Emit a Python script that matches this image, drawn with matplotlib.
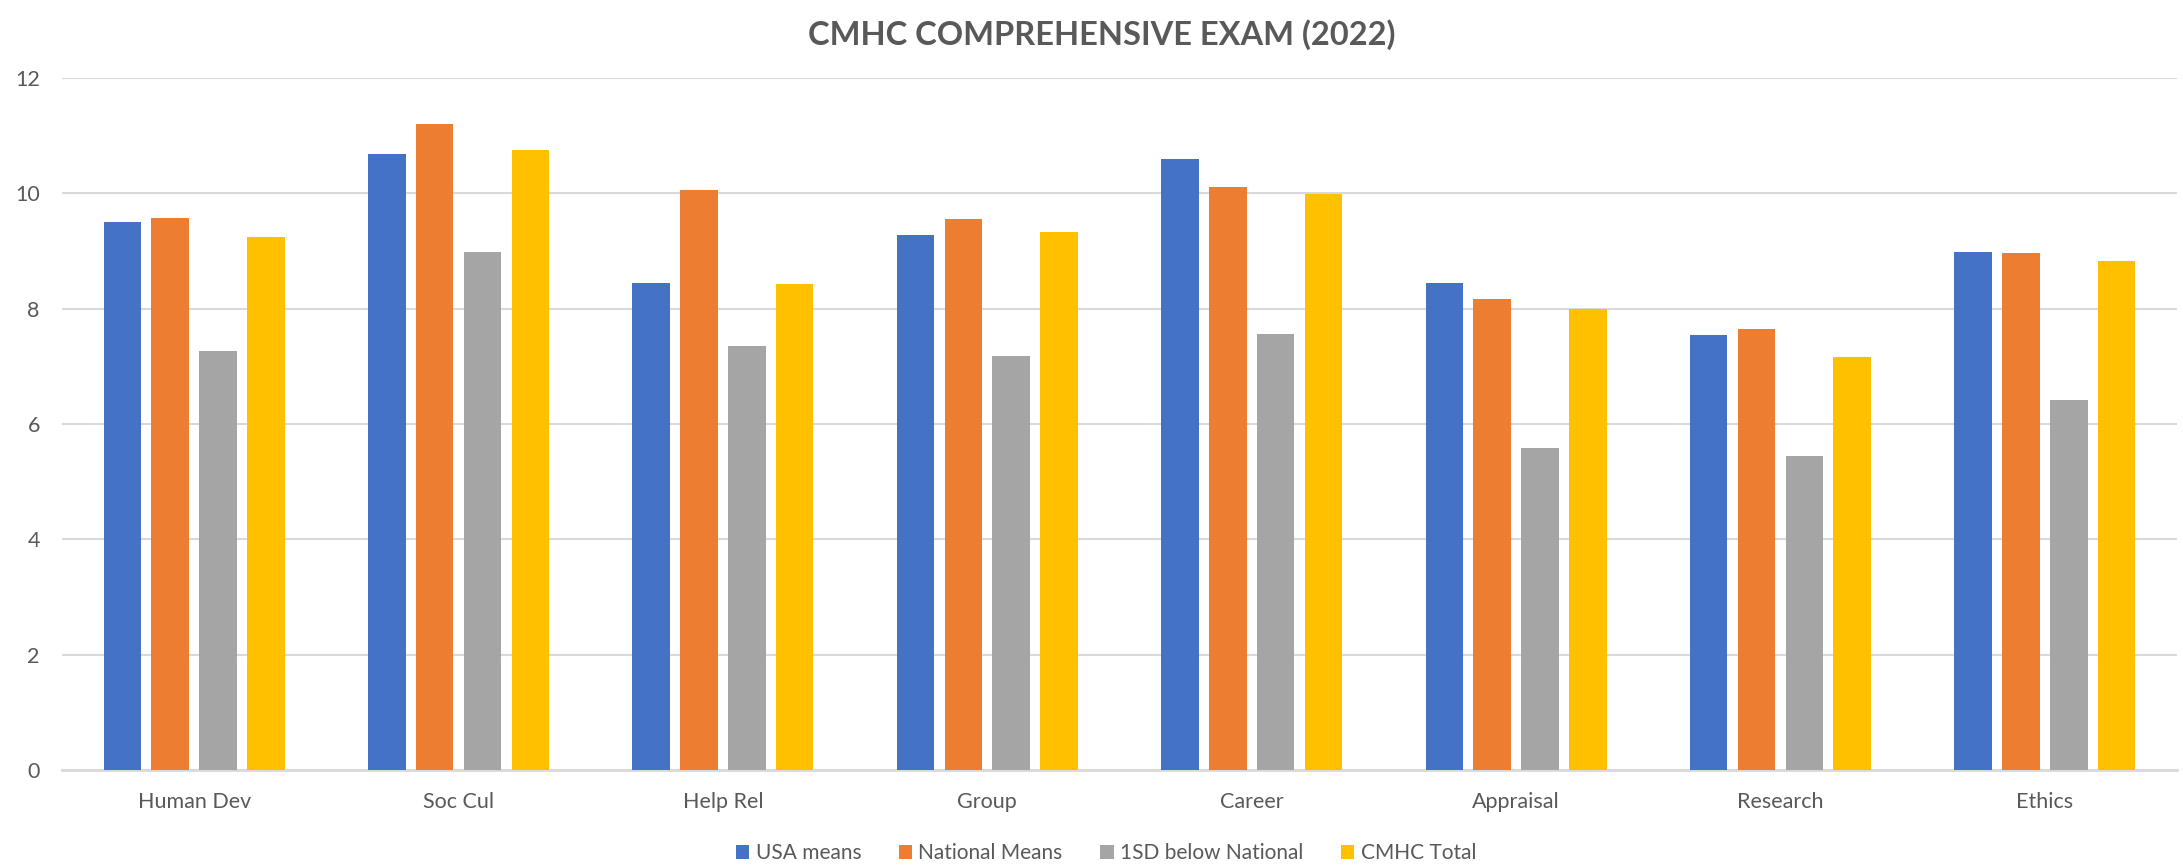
import numpy as np
import matplotlib
matplotlib.use('Agg')
import matplotlib.pyplot as plt

# Datos
categorias = ['Human Dev', 'Soc Cul', 'Help Rel', 'Group', 'Career', 'Appraisal', 'Research', 'Ethics']
usa_means = [9.50, 10.68, 8.45, 9.27, 10.60, 8.45, 7.55, 8.99]
national_means = [9.57, 11.20, 10.05, 9.55, 10.11, 8.16, 7.65, 8.96]
sd_below = [7.27, 8.98, 7.35, 7.18, 7.56, 5.58, 5.44, 6.42]
cmhc_total = [9.25, 10.75, 8.42, 9.33, 9.99, 8.00, 7.16, 8.83]

series = [usa_means, national_means, sd_below, cmhc_total]
nombres = ['USA means', 'National Means', '1SD below National', 'CMHC Total']
colores = ['#4472C4', '#ED7D31', '#A5A5A5', '#FFC000']

plt.rcParams['font.family'] = ['Lato', 'DejaVu Sans']
gris = '#595959'

fig = plt.figure(figsize=(21.83, 8.67), dpi=100)
ax = fig.add_axes([62/2183, 1-770/867, (2177-62)/2183, (770-78)/867])

x = np.arange(len(categorias))
ancho = 0.142
paso = 0.181
for i, (vals, nom, col) in enumerate(zip(series, nombres, colores)):
    ax.bar(x + (i-1.5)*paso, vals, ancho, color=col, label=nom, zorder=3)

ax.set_xlim(-0.5, len(categorias)-0.5)
ax.set_ylim(0, 12)
ax.set_yticks(np.arange(0, 13, 2))
ax.set_xticks(x)
ax.set_xticklabels(categorias)
ax.grid(axis='y', color='#D9D9D9', linewidth=1.5, zorder=0)
for s in ['top', 'right', 'left']:
    ax.spines[s].set_visible(False)
ax.spines['bottom'].set_color('#D9D9D9')
ax.spines['bottom'].set_linewidth(2)
ax.tick_params(axis='both', length=0, labelsize=15.5, labelcolor=gris)
ax.tick_params(axis='x', pad=16)
ax.tick_params(axis='y', pad=16)

fig.suptitle('CMHC COMPREHENSIVE EXAM (2022)', x=1102/2183, y=1-35/867, va='center',
             fontsize=23.5, fontweight='bold', color=gris)

fig.legend(loc='center', bbox_to_anchor=(1106/2183, 1-853/867), ncol=4, frameon=False,
           fontsize=15, labelcolor=gris, handlelength=0.65, handleheight=0.65,
           handletextpad=0.3, columnspacing=1.8)

fig.savefig('out.png', dpi=100)
